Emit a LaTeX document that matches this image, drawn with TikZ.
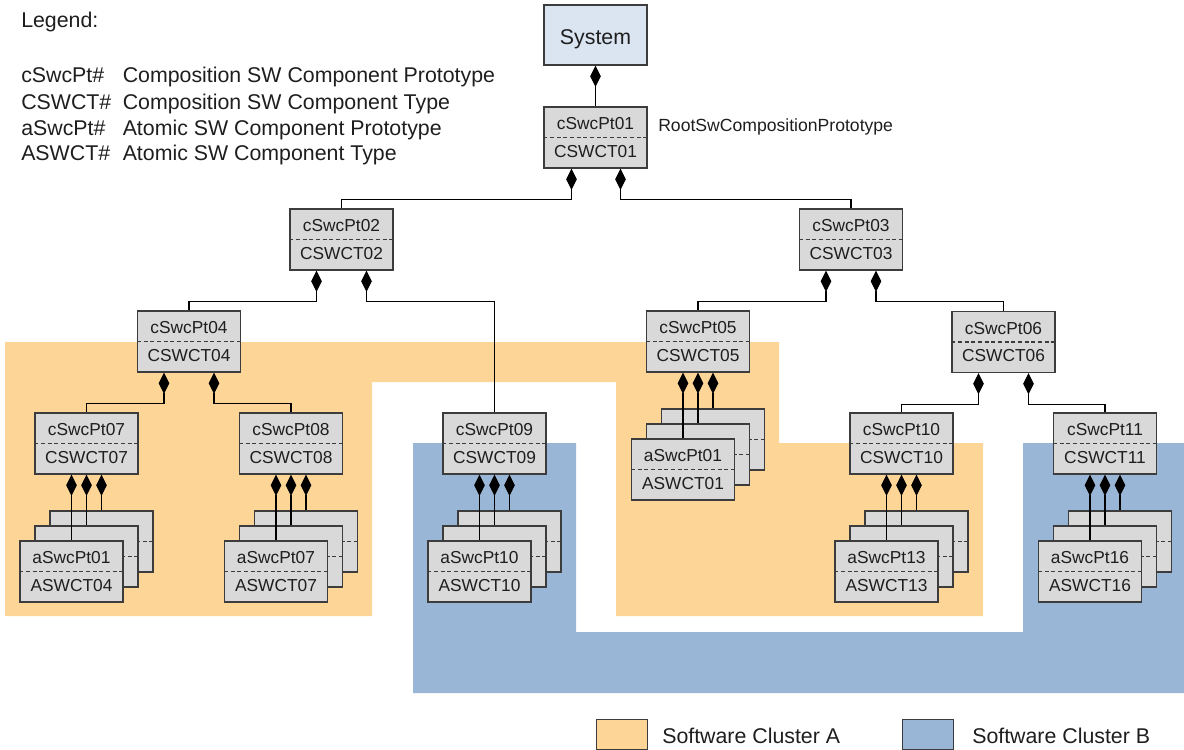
\documentclass[tikz,border=0pt]{standalone}
\usepackage{fontspec}
\setmainfont{Liberation Sans}
\usetikzlibrary{arrows.meta,calc}
\definecolor{clA}{RGB}{253,213,151}
\definecolor{clB}{RGB}{154,182,214}
\definecolor{boxfill}{RGB}{217,217,217}
\definecolor{sysfill}{RGB}{219,229,241}
\definecolor{edgec}{RGB}{60,60,60}
\definecolor{txt}{RGB}{30,30,30}
\tikzset{
  cbox/.style={draw=edgec, fill=boxfill, line width=0.9pt, minimum width=77.25pt, minimum height=45.75pt, inner sep=0pt},
  sysbox/.style={draw=edgec, fill=sysfill, line width=0.9pt, minimum width=77.25pt, minimum height=45pt, inner sep=0pt},
  ctext/.style={font=\fontsize{13}{15}\selectfont, text=txt, inner sep=0pt},
  bigtext/.style={font=\fontsize{16}{19}\selectfont, text=txt, inner sep=0pt, anchor=base west},
  septxt/.style={font=\fontsize{13.2}{15}\selectfont, text=txt, inner sep=0pt, anchor=base west},
  sepline/.style={draw=edgec, line width=0.8pt, dash pattern=on 3pt off 2pt},
  comp/.style={draw=black, line width=0.9pt, {Diamond[length=16pt,width=8pt]}-},
  legbox/.style={draw=edgec, line width=0.9pt, minimum width=38.25pt, minimum height=22.5pt, inner sep=0pt},
}
\newcommand\compbox[5]{%
  \node[cbox] (#1) at (#2,#3) {};
  \draw[sepline] (#1.west) -- (#1.east);
  \node[ctext] (#1t) at ($(#1.center)+(0,-13.75)$) {#4};
  \node[ctext] (#1b) at ($(#1.center)+(0,14)$) {#5};
}
\newcommand\atomstack[6]{%
  \node[cbox] (#1c) at (#2+30,#3-30) {};
  \draw[sepline] (#1c.west) -- (#1c.east);
  \node[cbox] (#1b) at (#2+15,#3-15) {};
  \draw[sepline] (#1b.west) -- (#1b.east);
  \node[cbox] (#1a) at (#2,#3) {};
  \draw[sepline] (#1a.west) -- (#1a.east);
  \node[ctext] (#1t) at ($(#1a.center)+(0,-13.75)$) {#4};
  \node[ctext] (#1u) at ($(#1a.center)+(0,14)$) {#5};
  \draw[comp] (#6.south -| #1a.north) -- (#1a.north);
  \draw[comp] (#6.south -| #1b.north) -- (#1b.north);
  \draw[comp] (#6.south -| #1c.north) -- (#1c.north);
}
\begin{document}
\begin{tikzpicture}[x=0.75pt,y=-0.75pt]
\useasboundingbox (0,0) rectangle (1184,749);
% software clusters
\fill[clA] (5,342) -- (779,342) -- (779,443) -- (983,443) -- (983,616) -- (616,616)
  -- (616,382) -- (372,382) -- (372,616) -- (5,616) -- cycle;
\fill[clB] (413,443) -- (576,443) -- (576,632) -- (1023,632) -- (1023,443)
  -- (1184,443) -- (1184,693) -- (413,693) -- cycle;
% legend
\node[bigtext] (leg) at (21,28) {Legend:};
\node[bigtext] (l1a) at (21,83) {cSwcPt\#};
\node[bigtext] (l1b) at (122.5,83) {Composition SW Component Prototype};
\node[bigtext] (l2a) at (21,109) {CSWCT\#};
\node[bigtext] (l2b) at (122.5,109) {Composition SW Component Type};
\node[bigtext] (l3a) at (21,135) {aSwcPt\#};
\node[bigtext] (l3b) at (122.5,135) {Atomic SW Component Prototype};
\node[bigtext] (l4a) at (21,160) {ASWCT\#};
\node[bigtext] (l4b) at (122.5,160) {Atomic SW Component Type};
% bottom legend
\node[legbox, fill=clA] (legA) at (622,734.5) {};
\node[bigtext] (legAt) at (662,743) {Software Cluster A};
\node[legbox, fill=clB] (legB) at (928,734.5) {};
\node[bigtext] (legBt) at (972,743) {Software Cluster B};
% system
\node[sysbox] (sys) at (595.5,35) {};
\node[font=\fontsize{16}{19}\selectfont, text=txt, inner sep=0pt, anchor=base] (systxt) at (595.5,45) {System};
% composition boxes
\compbox{c01}{595.5}{137.5}{cSwcPt01}{CSWCT01}
\node[septxt] (root) at (658,131) {RootSwCompositionPrototype};
\compbox{c02}{341.5}{239.5}{cSwcPt02}{CSWCT02}
\compbox{c03}{851}{239.5}{cSwcPt03}{CSWCT03}
\compbox{c04}{189}{341.5}{cSwcPt04}{CSWCT04}
\compbox{c05}{698}{341.5}{cSwcPt05}{CSWCT05}
\compbox{c06}{1003.5}{342}{cSwcPt06}{CSWCT06}
\compbox{c07}{86.5}{443.5}{cSwcPt07}{CSWCT07}
\compbox{c08}{291}{443.5}{cSwcPt08}{CSWCT08}
\compbox{c09}{494.5}{443.5}{cSwcPt09}{CSWCT09}
\compbox{c10}{901.5}{443.5}{cSwcPt10}{CSWCT10}
\compbox{c11}{1105}{443.5}{cSwcPt11}{CSWCT11}
% connectors
\draw[comp] (sys.south) -- (c01.north);
\draw[comp] ($(c01.south)+(-24,0)$) -- ++(0,31) -| (c02.north);
\draw[comp] ($(c01.south)+(25,0)$) -- ++(0,31) -| (c03.north);
\draw[comp] ($(c02.south)+(-25,0)$) -- ++(0,31) -| (c04.north);
\draw[comp] ($(c02.south)+(25,0)$) -- ++(0,31) -| (c09.north);
\draw[comp] ($(c03.south)+(-25,0)$) -- ++(0,31) -| (c05.north);
\draw[comp] ($(c03.south)+(25,0)$) -- ++(0,31) -| (c06.north);
\draw[comp] ($(c04.south)+(-25,0)$) -- ++(0,31) -| (c07.north);
\draw[comp] ($(c04.south)+(25,0)$) -- ++(0,31) -| (c08.north);
\draw[comp] ($(c06.south)+(-25,0)$) -- ++(0,31) -| (c10.north);
\draw[comp] ($(c06.south)+(25,0)$) -- ++(0,31) -| (c11.north);
% atomic stacks
\atomstack{s07}{71.5}{571.5}{aSwcPt01}{ASWCT04}{c07}
\atomstack{s08}{276}{571.5}{aSwcPt07}{ASWCT07}{c08}
\atomstack{s09}{479.5}{571.5}{aSwcPt10}{ASWCT10}{c09}
\atomstack{s05}{683}{469.5}{aSwcPt01}{ASWCT01}{c05}
\atomstack{s10}{886.5}{571.5}{aSwcPt13}{ASWCT13}{c10}
\atomstack{s11}{1090}{571.5}{aSwcPt16}{ASWCT16}{c11}
\end{tikzpicture}
\end{document}
